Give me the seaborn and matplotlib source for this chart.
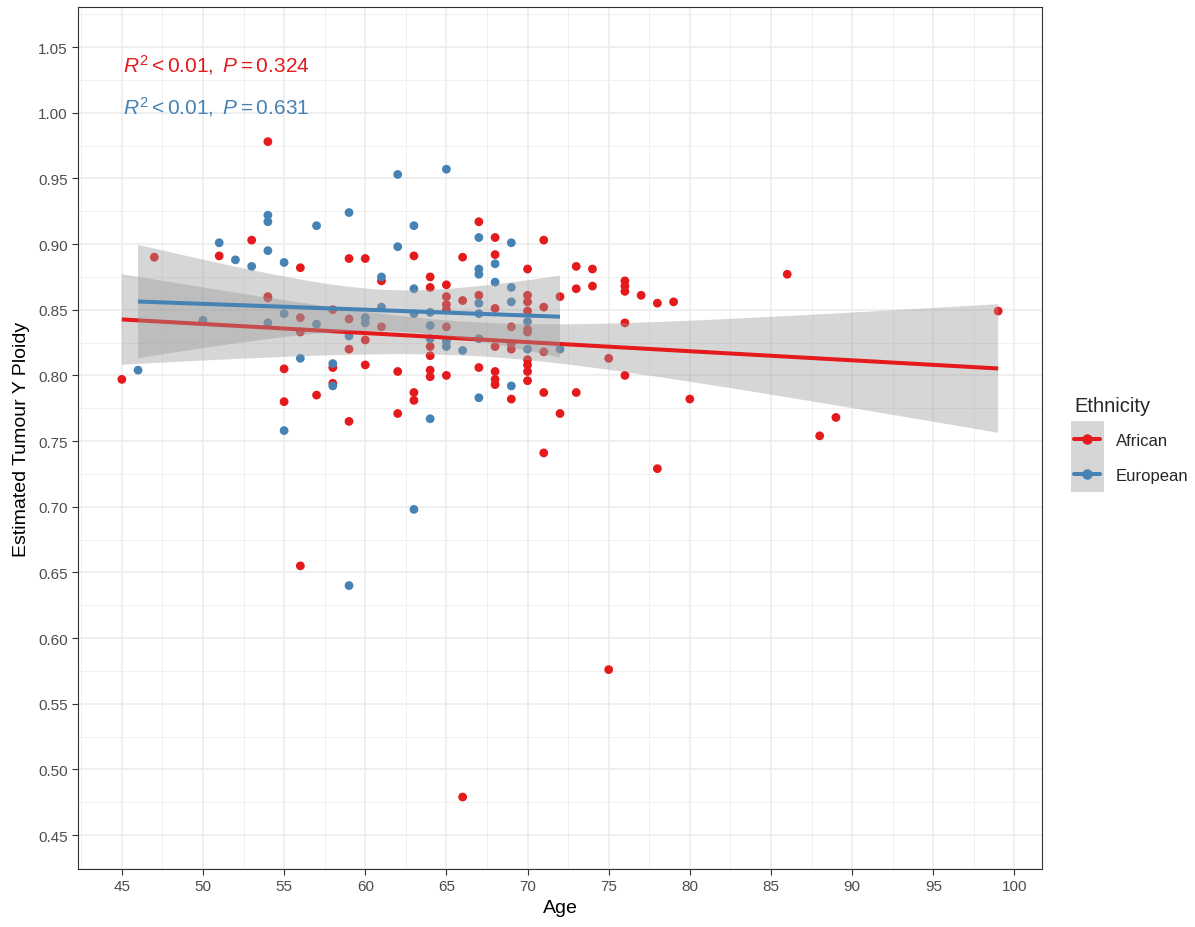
import numpy as np
import pandas as pd
import matplotlib
matplotlib.use("Agg")
import matplotlib.pyplot as plt
from matplotlib.lines import Line2D
from matplotlib.patches import Patch, Rectangle
from matplotlib.legend_handler import HandlerTuple, HandlerPatch
from matplotlib.ticker import MultipleLocator, FormatStrFormatter
import seaborn as sns

# Patient age and estimated tumour Y ploidy, by ethnicity
african_age = [45, 47, 51, 53, 54, 54, 54, 55, 55, 56, 56, 56, 56, 57, 58, 58, 58,
               59, 59, 59, 59, 60, 60, 60, 61, 61, 62, 62, 63, 63, 63,
               64, 64, 64, 64, 64, 64, 65, 65, 65, 65, 65, 65, 66, 66, 66,
               67, 67, 67, 68, 68, 68, 68, 68, 68, 68, 69, 69, 69, 69,
               70, 70, 70, 70, 70, 70, 70, 70, 70, 70, 71, 71, 71, 71, 71,
               72, 72, 73, 73, 73, 74, 74, 75, 75, 76, 76, 76, 76, 76,
               77, 78, 78, 79, 80, 86, 88, 89, 99]
african_ploidy = [0.797, 0.890, 0.891, 0.903, 0.978, 0.860, 0.859, 0.805, 0.780,
                  0.882, 0.844, 0.833, 0.655, 0.785, 0.850, 0.806, 0.794,
                  0.889, 0.843, 0.820, 0.765, 0.889, 0.827, 0.808, 0.872, 0.837,
                  0.803, 0.771, 0.891, 0.787, 0.781,
                  0.875, 0.867, 0.822, 0.815, 0.804, 0.799,
                  0.869, 0.860, 0.854, 0.850, 0.837, 0.800,
                  0.890, 0.857, 0.479, 0.917, 0.861, 0.806,
                  0.905, 0.892, 0.851, 0.822, 0.803, 0.797, 0.793,
                  0.837, 0.824, 0.820, 0.782,
                  0.881, 0.861, 0.856, 0.849, 0.835, 0.833, 0.812, 0.808, 0.803, 0.796,
                  0.903, 0.852, 0.818, 0.787, 0.741,
                  0.860, 0.771, 0.883, 0.866, 0.787, 0.881, 0.868, 0.813, 0.576,
                  0.872, 0.868, 0.864, 0.840, 0.800,
                  0.861, 0.855, 0.729, 0.856, 0.782, 0.877, 0.754, 0.768, 0.849]

european_age = [46, 50, 51, 52, 53, 54, 54, 54, 54, 55, 55, 55, 56, 57, 57, 58, 58,
                59, 59, 59, 60, 60, 61, 61, 62, 62, 63, 63, 63, 63,
                64, 64, 64, 64, 65, 65, 65, 66, 67, 67, 67, 67, 67, 67, 67,
                68, 68, 69, 69, 69, 69, 70, 70, 72]
european_ploidy = [0.804, 0.842, 0.901, 0.888, 0.883, 0.922, 0.917, 0.895, 0.840,
                   0.886, 0.847, 0.758, 0.813, 0.914, 0.839, 0.809, 0.792,
                   0.924, 0.830, 0.640, 0.844, 0.840, 0.875, 0.852, 0.953, 0.898,
                   0.914, 0.866, 0.847, 0.698,
                   0.848, 0.838, 0.828, 0.767, 0.957, 0.826, 0.822, 0.819,
                   0.905, 0.881, 0.877, 0.855, 0.847, 0.828, 0.783,
                   0.885, 0.871, 0.901, 0.867, 0.856, 0.792, 0.841, 0.820, 0.820]

groups = ["African", "European"]
palette = {"African": "#E41A1C", "European": "#4682B4"}
stats_labels = {"African": r"$R^2 < 0.01,\ P = 0.324$",
                "European": r"$R^2 < 0.01,\ P = 0.631$"}

df = pd.concat([
    pd.DataFrame({"Age": african_age, "Ploidy": african_ploidy, "Ethnicity": "African"}),
    pd.DataFrame({"Age": european_age, "Ploidy": european_ploidy, "Ethnicity": "European"}),
], ignore_index=True)


def t_975(dof):
    """Two-sided 95 % Student-t critical value (Cornish-Fisher expansion)."""
    z = 1.959963984540054
    g1 = (z ** 3 + z) / 4.0
    g2 = (5 * z ** 5 + 16 * z ** 3 + 3 * z) / 96.0
    g3 = (3 * z ** 7 + 19 * z ** 5 + 17 * z ** 3 - 15 * z) / 384.0
    return z + g1 / dof + g2 / dof ** 2 + g3 / dof ** 3


def ols_band(x, y, grid):
    """Classical 95 % confidence band for the mean of a straight-line fit."""
    x = np.asarray(x, float)
    y = np.asarray(y, float)
    n = len(x)
    slope, intercept = np.polyfit(x, y, 1)
    resid = y - (intercept + slope * x)
    s = np.sqrt(np.sum(resid ** 2) / (n - 2))
    xbar = x.mean()
    sxx = np.sum((x - xbar) ** 2)
    fit = intercept + slope * grid
    se = s * np.sqrt(1.0 / n + (grid - xbar) ** 2 / sxx)
    t = t_975(n - 2)
    return fit - t * se, fit + t * se


sns.set_theme(style="white")
plt.rcParams["font.family"] = ["Liberation Sans", "DejaVu Sans"]
plt.rcParams["mathtext.fontset"] = "custom"
plt.rcParams["mathtext.rm"] = "Liberation Sans"
plt.rcParams["mathtext.it"] = "Liberation Sans:italic"
plt.rcParams["mathtext.bf"] = "Liberation Sans:bold"

fig = plt.figure(figsize=(11.95, 9.28), dpi=100)
ax = fig.add_axes([78 / 1195, 58 / 928, 964 / 1195, 862 / 928])

sns.scatterplot(data=df, x="Age", y="Ploidy", hue="Ethnicity", palette=palette,
                s=40, linewidth=0, legend=False, ax=ax, zorder=2)

# regression lines with grey confidence ribbons drawn over the points
for i, g in enumerate(groups):
    sub = df[df["Ethnicity"] == g]
    grid = np.linspace(sub["Age"].min(), sub["Age"].max(), 200)
    lo, hi = ols_band(sub["Age"], sub["Ploidy"], grid)
    ax.fill_between(grid, lo, hi, facecolor="#999999", alpha=0.4, edgecolor="none",
                    zorder=3 + 2 * i)
    sns.regplot(data=sub, x="Age", y="Ploidy", scatter=False, ci=None,
                color=palette[g],
                line_kws=dict(lw=2.9, zorder=4 + 2 * i, solid_capstyle="butt"), ax=ax)

# fit statistics for each group
for g, yv in zip(groups, [1.037, 1.005]):
    ax.text(45.1, yv, stats_labels[g], color=palette[g], fontsize=15,
            ha="left", va="center", zorder=8)

ax.set_xlim(42.3, 101.7)
ax.set_ylim(0.4242, 1.0805)
ax.xaxis.set_major_locator(MultipleLocator(5))
ax.xaxis.set_minor_locator(MultipleLocator(2.5))
ax.yaxis.set_major_locator(MultipleLocator(0.05))
ax.yaxis.set_minor_locator(MultipleLocator(0.025))
ax.yaxis.set_major_formatter(FormatStrFormatter("%.2f"))

ax.set_axisbelow(True)
ax.grid(True, which="major", color="#EBEBEB", lw=1.1)
ax.grid(True, which="minor", color="#F0F0F0", lw=0.7)
for sp in ax.spines.values():
    sp.set_visible(True)
    sp.set_color("#333333")
    sp.set_linewidth(0.8)
ax.tick_params(which="major", direction="out", length=4, width=0.8, color="#333333",
               labelcolor="#4D4D4D", labelsize=11, bottom=True, left=True)
ax.tick_params(which="minor", length=0)

ax.set_xlabel("Age", fontsize=14, color="black", labelpad=4)
ax.set_ylabel("Estimated Tumour Y Ploidy", fontsize=14, color="black", labelpad=6)


# legend key background: a grey box centred on the key line, tall enough to join rows
def key_background(legend, orig_handle, xdescent, ydescent, width, height, fontsize):
    yc = (height - ydescent) / 2.0
    h = 2.15 * fontsize
    return Rectangle((-xdescent - 0.2 * fontsize, yc - h / 2.0),
                     width + 0.4 * fontsize, h)


handles = []
for g in groups:
    bg = Patch(facecolor="#D6D6D6", edgecolor="none")
    ln = Line2D([0], [0], color=palette[g], lw=2.9, marker="o", markersize=6.5)
    handles.append((bg, ln))
leg = fig.legend(handles, groups, title="Ethnicity", loc="upper left",
                 bbox_to_anchor=(1061 / 1195, 1 - 384 / 928), frameon=False,
                 fontsize=12, title_fontsize=14.5, handlelength=1.55, handleheight=1.0,
                 handletextpad=0.95, labelspacing=1.15, borderpad=0.3,
                 handler_map={tuple: HandlerTuple(ndivide=1, pad=0),
                              Patch: HandlerPatch(patch_func=key_background)})
leg._legend_box.align = "left"
leg._legend_box.sep = 12

fig.savefig("out.png", dpi=100)
